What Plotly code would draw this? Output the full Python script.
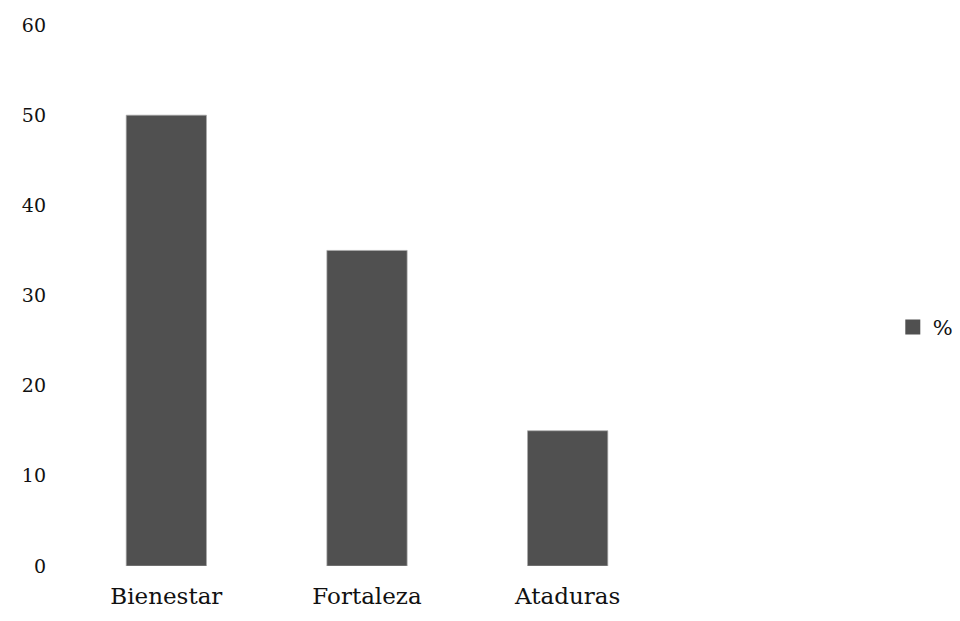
import plotly.graph_objects as go

categories = ["Bienestar", "Fortaleza", "Ataduras"]
values = [50, 35, 15]
series_name = "%"
y_ticks = [0, 10, 20, 30, 40, 50, 60]

bar_color = "#505050"

fig = go.Figure()
fig.add_trace(go.Bar(
    x=categories, y=values, name=series_name,
    marker=dict(color=bar_color, line=dict(color="rgba(170,170,170,0.7)", width=1)),
    showlegend=False,
))
# legend entry (square swatch)
fig.add_trace(go.Scatter(
    x=[None], y=[None], mode="markers", name=series_name,
    marker=dict(symbol="square", size=15, color=bar_color),
    showlegend=True,
))

font_family = "DejaVu Serif"
fig.update_layout(
    width=960, height=621,
    margin=dict(l=65.5, r=291.5, t=24.5, b=55, autoexpand=False),
    paper_bgcolor="white", plot_bgcolor="white",
    font=dict(family=font_family, size=20, color="#111111"),
    bargap=0.6,
    showlegend=True,
    legend=dict(xref="container", x=0.930, y=0.473, yref="container",
                xanchor="left", yanchor="middle",
                font=dict(family=font_family, size=21), itemwidth=30,
                bgcolor="rgba(0,0,0,0)"),
    xaxis=dict(showgrid=False, showline=False, zeroline=False, ticks="",
               ticklabelstandoff=14, tickfont=dict(size=23), automargin=False),
    yaxis=dict(range=[0, 60], tickvals=y_ticks, showgrid=False, showline=False,
               zeroline=False, ticks="", ticklabelstandoff=19,
               tickfont=dict(size=19), automargin=False),
)

fig.write_html("out.html")
